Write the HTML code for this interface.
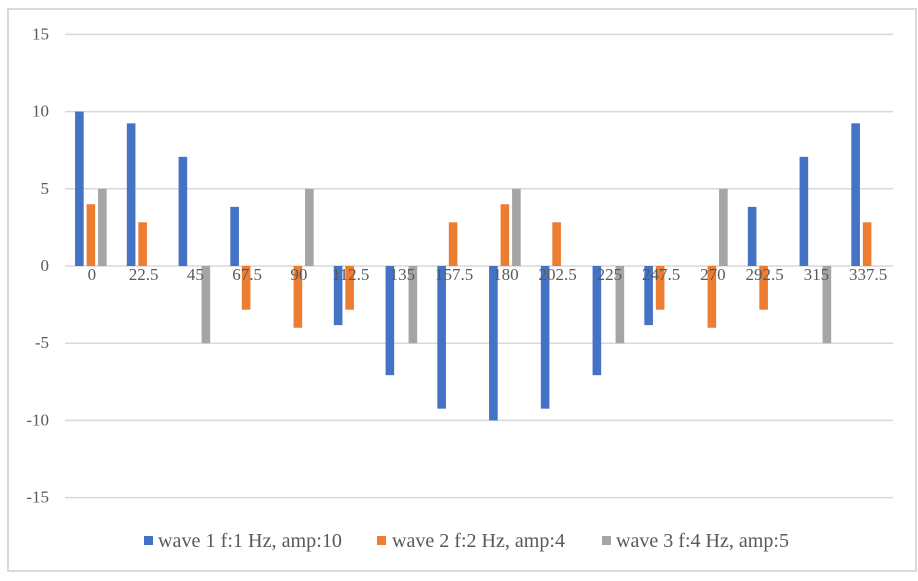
<!DOCTYPE html>
<html><head><meta charset="utf-8"><style>
body{margin:0;background:#fff}
svg{display:block;font-family:"Liberation Serif",serif}
</style></head><body>
<svg id="chart" width="918" height="581">
<rect x="8" y="9" width="908" height="562" fill="#fff" stroke="#d9d9d9" stroke-width="2"/>
<g id="grid"></g><g id="bars"></g><g id="labels"></g>
<g id="legend">
<rect x="144" y="536" width="9" height="9" fill="#4472C4"/>
<text x="158" y="547" font-size="19.5" textLength="184" lengthAdjust="spacingAndGlyphs" fill="#595959">wave 1 f:1 Hz, amp:10</text>
<rect x="377" y="536" width="9" height="9" fill="#ED7D31"/>
<text x="392" y="547" font-size="19.5" textLength="173" lengthAdjust="spacingAndGlyphs" fill="#595959">wave 2 f:2 Hz, amp:4</text>
<rect x="602" y="536" width="9" height="9" fill="#A5A5A5"/>
<text x="616" y="547" font-size="19.5" textLength="173" lengthAdjust="spacingAndGlyphs" fill="#595959">wave 3 f:4 Hz, amp:5</text>
</g>
</svg>
<script>
const categories=["0","22.5","45","67.5","90","112.5","135","157.5","180","202.5","225","247.5","270","292.5","315","337.5"];
const wave1=[10,9.24,7.07,3.83,0,-3.83,-7.07,-9.24,-10,-9.24,-7.07,-3.83,0,3.83,7.07,9.24];
const wave2=[4,2.83,0,-2.83,-4,-2.83,0,2.83,4,2.83,0,-2.83,-4,-2.83,0,2.83];
const wave3=[5,0,-5,0,5,0,-5,0,5,0,-5,0,5,0,-5,0];
const yTicks=[15,10,5,0,-5,-10,-15];
const NS="http://www.w3.org/2000/svg";
const left=65,right=893,y0=266,pxPer=77.2/5;
const y=v=>y0-v*pxPer;
const step=(right-left)/categories.length;
const xc=i=>left+step*(i+0.5);
function mk(t,a,p){const e=document.createElementNS(NS,t);for(const k in a)e.setAttribute(k,a[k]);p.appendChild(e);return e;}
const grid=document.getElementById('grid');
yTicks.forEach(t=>{
 const l=mk('line',{x1:left,x2:right,y1:y(t),y2:y(t),stroke:'#d9d9d9','stroke-width':1.5},grid);
 
 
 const tx=mk('text',{x:49,y:y(t)+5,'text-anchor':'end','font-size':17,fill:'#595959'},grid);
 tx.textContent=t;
 
 
});
const bars=document.getElementById('bars');
const series=[[wave1,'#4472C4',-11.5,'wave1'],[wave2,'#ED7D31',0,'wave2'],[wave3,'#A5A5A5',11.5,'wave3']];
const bw=8.6;
series.forEach(([vals,col,off,nm])=>{
 vals.forEach((v,i)=>{
  if(v===0)return;
  const top=Math.min(y(v),y0),h=Math.abs(y(v)-y0);
  const r=mk('rect',{x:xc(i)+off-bw/2,y:top,width:bw,height:h,fill:col},bars);
  
  
 });
});
const labels=document.getElementById('labels');
categories.forEach((c,i)=>{
 const t=mk('text',{x:xc(i)+1,y:280,'text-anchor':'middle','font-size':17,fill:'#595959'},labels);
 t.textContent=c;
 
 
});
</script>
</body></html>
